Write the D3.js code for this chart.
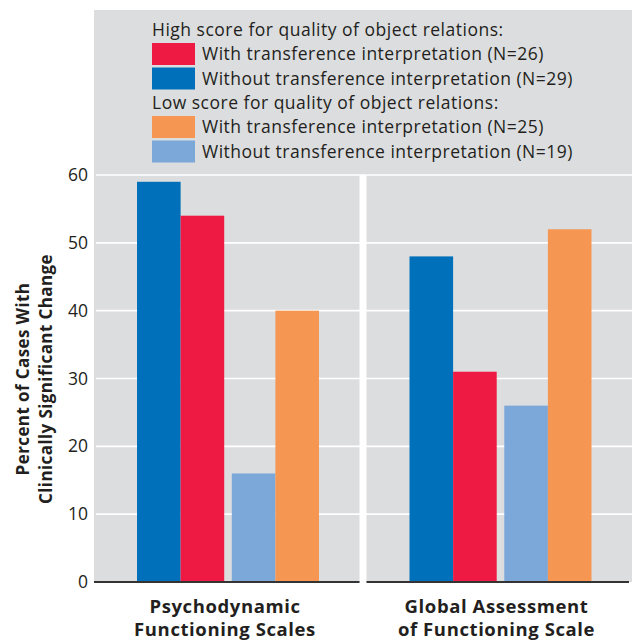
<!DOCTYPE html>
<html>
<head>
<meta charset="utf-8">
<script src="https://cdn.jsdelivr.net/npm/d3@7"></script>
<style>
  body { margin: 0; background: #fff; }
  text { font-family: "Open Sans", "Noto Sans", sans-serif; fill: #231f20; }
</style>
</head>
<body>
<svg id="chart" width="632" height="642"></svg>
<script>
// categories (x axis)
var panels = ["Psychodynamic Functioning Scales", "Global Assessment of Functioning Scale"]
var panelLabels = [["Psychodynamic", "Functioning Scales"], ["Global Assessment", "of Functioning Scale"]]

// groups and series
var groups = ["High", "Low"]
var groupTitles = ["High score for quality of object relations:", "Low score for quality of object relations:"]
var kinds = ["Without", "With"]

// values, percent of cases with clinically significant change
var highWith = [54, 31]
var highWithout = [59, 48]
var lowWith = [40, 52]
var lowWithout = [16, 26]

var yTicks = [0, 10, 20, 30, 40, 50, 60]

var series = [
  {group: "High", kind: "Without", values: highWithout, color: "#0070ba", label: "Without transference interpretation (N=29)"},
  {group: "High", kind: "With", values: highWith, color: "#ee1a43", label: "With transference interpretation (N=26)"},
  {group: "Low", kind: "Without", values: lowWithout, color: "#7ba7d9", label: "Without transference interpretation (N=19)"},
  {group: "Low", kind: "With", values: lowWith, color: "#f69653", label: "With transference interpretation (N=25)"}
]

// legend order: With first, then Without
var legendOrder = [
  [series[1], series[0]],
  [series[3], series[2]]
]

var svg = d3.select("#chart")

var panelLeft = 94, panelRight = 632
var panelTop = 10, baseY = 582

var y = d3.scaleLinear().domain([0, 60]).range([baseY, 175])

var x0 = d3.scaleBand().domain(panels).range([panelLeft, panelRight]).paddingInner(0.0257)
var xGroup = d3.scaleBand().domain(groups).range([43, 225]).paddingInner(0.08)
var xKind = d3.scaleBand().domain(kinds).range([0, xGroup.bandwidth()])

// gray background
svg.append("rect")
  .attr("x", panelLeft).attr("y", panelTop)
  .attr("width", panelRight - panelLeft).attr("height", baseY - panelTop)
  .attr("fill", "#dcdddf")

// white separator between panels
svg.append("rect")
  .attr("x", x0(panels[0]) + x0.bandwidth())
  .attr("y", y(60))
  .attr("width", x0(panels[1]) - x0(panels[0]) - x0.bandwidth())
  .attr("height", baseY - y(60))
  .attr("fill", "#fff")

// gridlines
svg.append("g").selectAll("line")
  .data(yTicks.filter(function(d){ return d > 0 }))
  .enter().append("line")
  .attr("x1", panelLeft + 2).attr("x2", panelRight)
  .attr("y1", function(d){ return y(d) }).attr("y2", function(d){ return y(d) })
  .attr("stroke", "#fff").attr("stroke-width", 1.6)

// bars
var panelG = svg.append("g").selectAll("g")
  .data(panels)
  .enter().append("g")
  .attr("transform", function(d){ return "translate(" + x0(d) + ",0)" })

panelG.selectAll("rect")
  .data(function(p, i){ return series.map(function(s){ return {s: s, v: s.values[i]} }) })
  .enter().append("rect")
  .attr("x", function(d){ return xGroup(d.s.group) + xKind(d.s.kind) })
  .attr("width", xKind.bandwidth())
  .attr("y", function(d){ return y(d.v) })
  .attr("height", function(d){ return baseY - y(d.v) })
  .attr("fill", function(d){ return d.s.color })

// baseline under each panel
panelG.append("line")
  .attr("x1", 0).attr("x2", function(d, i){ return i == 1 ? x0.bandwidth() - 3 : x0.bandwidth() })
  .attr("y1", baseY).attr("y2", baseY)
  .attr("stroke", "#333").attr("stroke-width", 2)

// y axis labels
var yAxis = d3.axisLeft(y).tickValues(yTicks).tickSize(0).tickPadding(6)
var yg = svg.append("g").attr("transform", "translate(" + panelLeft + ",0)").call(yAxis)
yg.select(".domain").remove()
yg.selectAll("text").attr("font-size", 17.5).attr("font-family", "Open Sans, sans-serif").attr("fill", "#231f20")

// y axis title
var yt = svg.append("text")
  .attr("transform", "translate(33,379) rotate(-90)")
  .attr("text-anchor", "middle")
  .attr("font-size", 17).attr("font-weight", "bold")
  .attr("letter-spacing", 0.4)
yt.append("tspan").attr("x", 0).attr("dy", "-0.25em").text("Percent of Cases With")
yt.append("tspan").attr("x", 0).attr("dy", "1.35em").text("Clinically Significant Change")

// category labels
panelG.append("text")
  .attr("text-anchor", "middle")
  .attr("font-size", 18.5).attr("font-weight", "bold")
  .attr("letter-spacing", 0.6)
  .attr("x", function(d, i){ return xGroup.range()[0] + (xGroup.range()[1] - xGroup.range()[0]) / 2 - (i == 1 ? 4 : 3) })
  .attr("y", 613)
  .each(function(d, i){
    var t = d3.select(this)
    t.append("tspan").attr("x", t.attr("x")).attr("dy", 0).text(panelLabels[i][0])
    t.append("tspan").attr("x", t.attr("x")).attr("dy", 23).text(panelLabels[i][1])
  })

// legend
var legX = 152, swW = 43, swH = 22
var legTitleY = [36, 109]
groupTitles.forEach(function(title, gi){
  svg.append("text")
    .attr("x", legX).attr("y", legTitleY[gi])
    .attr("font-size", 17.5).attr("letter-spacing", 0.5)
    .text(title)
  legendOrder[gi].forEach(function(s, k){
    var sy = legTitleY[gi] + 7 + k * 24.5
    svg.append("rect")
      .attr("x", legX).attr("y", sy)
      .attr("width", swW).attr("height", swH)
      .attr("fill", s.color)
    svg.append("text")
      .attr("x", legX + swW + 7).attr("y", sy + swH / 2)
      .attr("dy", "0.35em")
      .attr("font-size", 17.5).attr("letter-spacing", 0.5)
      .text(s.label)
  })
})
</script>
</body>
</html>
